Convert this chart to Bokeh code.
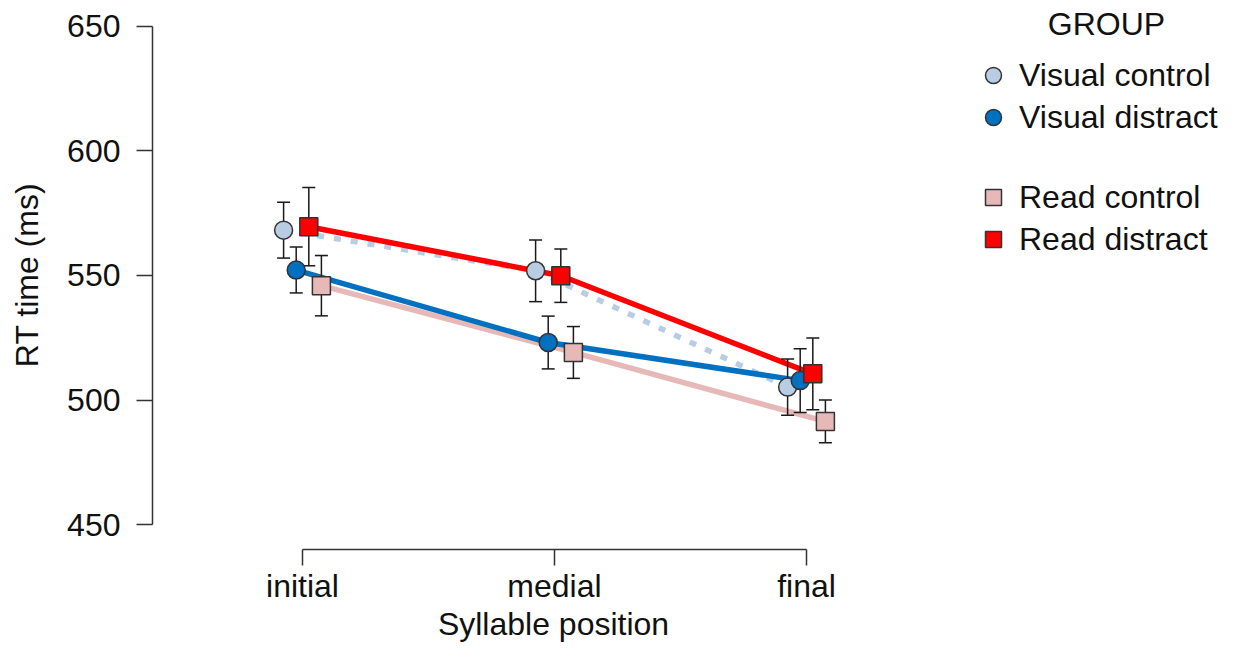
import math
from bokeh.plotting import figure
from bokeh.layouts import row
from bokeh.models import Range1d, FixedTicker, Legend, LegendItem, Label
from bokeh.embed import file_html
from bokeh.resources import INLINE

# ---- data -------------------------------------------------------------
positions = ["initial", "medial", "final"]
groups = ["Visual control", "Visual distract", "Read control", "Read distract"]

visual_control = [568.2, 551.9, 505.2]
visual_control_se = [11.2, 12.4, 11.3]
visual_distract = [552.2, 523.1, 507.8]
visual_distract_se = [9.2, 10.6, 12.8]
read_control = [545.9, 519.1, 491.4]
read_control_se = [12.1, 10.4, 8.6]
read_distract = [569.6, 549.9, 510.5]
read_distract_se = [15.7, 10.7, 14.4]

y_ticks = [450, 500, 550, 600, 650]

x_title = "Syllable position"
y_title = "RT time (ms)"
legend_title = "GROUP"

# ---- styles -------------------------------------------------------------
FONT = "Liberation Sans"
FS = "32px"
TXT = "#111111"
styles = {
    "Visual control": dict(vals=visual_control, se=visual_control_se, dx=-0.075,
                           color="#b8cce4", marker="circle", dash="7 10"),
    "Visual distract": dict(vals=visual_distract, se=visual_distract_se, dx=-0.025,
                            color="#0070c0", marker="circle", dash="solid"),
    "Read control": dict(vals=read_control, se=read_control_se, dx=0.075,
                         color="#e6b9b8", marker="square", dash="solid"),
    "Read distract": dict(vals=read_distract, se=read_distract_se, dx=0.025,
                          color="#ff0000", marker="square", dash="solid"),
}
MARKER_KW = dict(size=18, line_color="#333333", line_width=1.5)

W_MAIN, W_LEG, H = 960, 260, 644
LEFT, RIGHT, TOP, BOTTOM = 152, 6, 0, 94
px_per_unit = 252.0
x_start = 1 - 150 / px_per_unit
x_end = x_start + (W_MAIN - LEFT - RIGHT) / px_per_unit
px_per_ms = 2.495
y_end = 650 + 26 / px_per_ms
y_start = y_end - (H - TOP - BOTTOM) / px_per_ms

p = figure(width=W_MAIN, height=H, output_backend="svg", toolbar_location=None,
           x_range=Range1d(x_start, x_end), y_range=Range1d(y_start, y_end),
           min_border_left=LEFT, min_border_right=RIGHT, min_border_top=TOP,
           min_border_bottom=BOTTOM)
p.outline_line_color = None
p.grid.visible = False
p.background_fill_color = "white"

xs_base = list(range(1, len(positions) + 1))

# lines
for g in ["Visual control", "Read control", "Visual distract", "Read distract"]:
    s = styles[g]
    xs = [x + s["dx"] for x in xs_base]
    p.line(xs, s["vals"], line_color=s["color"], line_width=5.5,
           line_dash=s["dash"], line_cap="butt")

# error bars
cap = 6.5 / px_per_unit
for g in groups:
    s = styles[g]
    xs = [x + s["dx"] for x in xs_base]
    lo = [v - e for v, e in zip(s["vals"], s["se"])]
    hi = [v + e for v, e in zip(s["vals"], s["se"])]
    p.segment(xs, lo, xs, hi, line_color="#1a1a1a", line_width=1.5)
    p.segment([x - cap for x in xs], lo, [x + cap for x in xs], lo,
              line_color="#1a1a1a", line_width=1.5)
    p.segment([x - cap for x in xs], hi, [x + cap for x in xs], hi,
              line_color="#1a1a1a", line_width=1.5)

# markers
for g in groups:
    s = styles[g]
    xs = [x + s["dx"] for x in xs_base]
    p.scatter(xs, s["vals"], marker=s["marker"], fill_color=s["color"], **MARKER_KW)

# axes
for ax in (p.xaxis[0], p.yaxis[0]):
    ax.axis_line_color = "#333333"
    ax.axis_line_width = 1.5
    ax.major_tick_line_color = "#333333"
    ax.major_tick_line_width = 1.5
    ax.major_tick_in = 0
    ax.major_tick_out = 16
    ax.minor_tick_in = 0
    ax.minor_tick_out = 0
    ax.major_label_text_font = FONT
    ax.major_label_text_font_size = FS
    ax.major_label_text_color = TXT
    ax.axis_label_text_font = FONT
    ax.axis_label_text_font_size = FS
    ax.axis_label_text_font_style = "normal"
    ax.axis_label_text_color = TXT

p.xaxis.ticker = FixedTicker(ticks=xs_base)
p.xaxis.major_label_overrides = {i + 1: name for i, name in enumerate(positions)}
p.xaxis.bounds = (1, len(positions))
p.xaxis.major_label_standoff = 2
p.xaxis.axis_label = x_title
p.xaxis.axis_label_standoff = -1

p.yaxis.ticker = FixedTicker(ticks=y_ticks)
p.yaxis.bounds = (y_ticks[0], y_ticks[-1])
p.yaxis.major_label_standoff = 16
p.yaxis.axis_label = y_title
p.yaxis.axis_label_standoff = 19

# ---- legend panel (its frame is aligned with the main frame: 550 px tall) ----
FRAME_H = H - TOP - BOTTOM
lp = figure(width=W_LEG, height=H, output_backend="svg", toolbar_location=None,
            x_range=Range1d(100, 101), y_range=Range1d(0, 1),
            x_axis_type=None, y_axis_type=None,
            min_border_left=0, min_border_right=0, min_border_top=0,
            min_border_bottom=0)
lp.outline_line_color = None
lp.grid.visible = False

# legend proxies: same styling, their points lie outside this panel's ranges
proxy = {}
for g in groups:
    s = styles[g]
    proxy[g] = lp.scatter(xs_base, s["vals"], marker=s["marker"],
                          fill_color=s["color"], **MARKER_KW)


def make_legend(names, loc):
    return Legend(items=[LegendItem(label=n, renderers=[proxy[n]], index=0) for n in names],
                  location=loc, padding=0, spacing=2, margin=0,
                  glyph_width=40, glyph_height=40, label_standoff=6,
                  label_text_font=FONT, label_text_font_size=FS,
                  label_text_color=TXT,
                  border_line_color=None, background_fill_alpha=0)


lp.add_layout(make_legend(["Visual control", "Visual distract"], (13, FRAME_H - 138)), "center")
lp.add_layout(make_legend(["Read control", "Read distract"], (13, FRAME_H - 260)), "center")
lp.add_layout(Label(x=146, y=FRAME_H - 24, x_units="screen", y_units="screen",
                    text=legend_title, text_font=FONT, text_font_size=FS,
                    text_color=TXT, text_align="center", text_baseline="middle"))

layout = row(p, lp, spacing=0)
open("out.html", "w").write(file_html(layout, INLINE))
